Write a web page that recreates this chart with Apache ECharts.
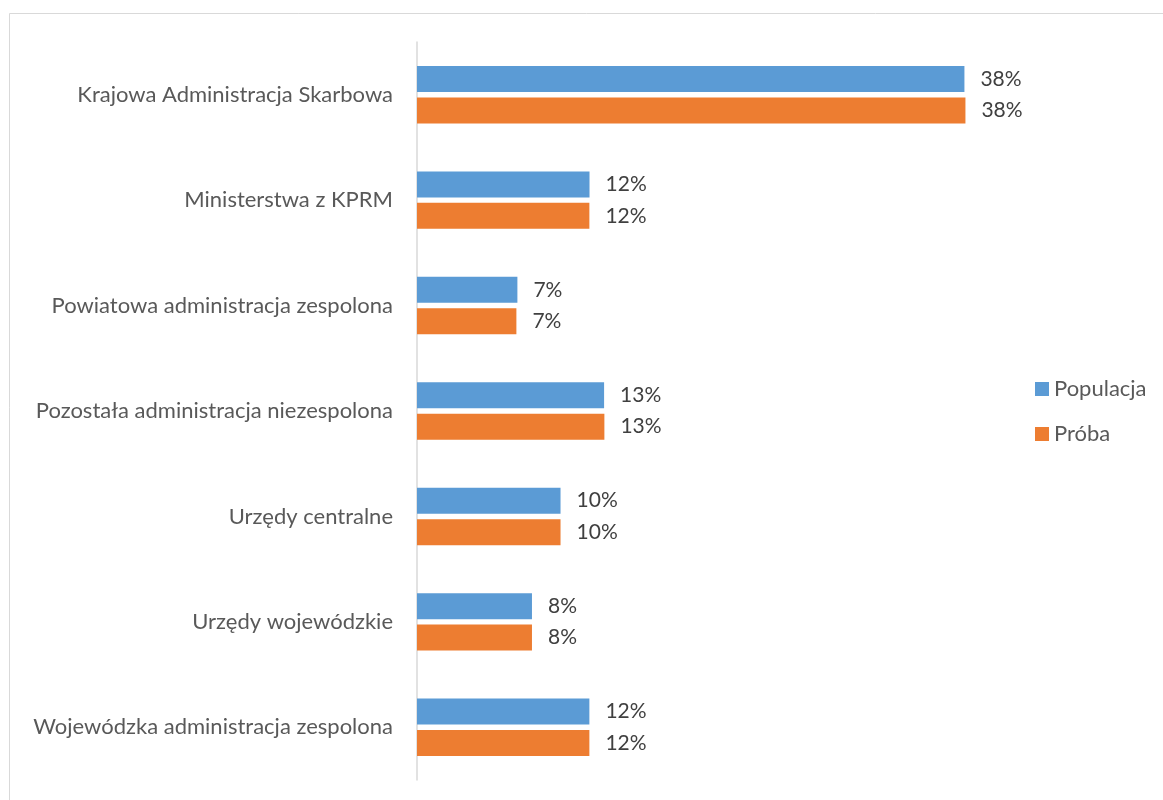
<!DOCTYPE html>
<html>
<head>
<meta charset="utf-8">
<script src="https://cdn.jsdelivr.net/npm/echarts@6/dist/echarts.min.js"></script>
<style>
html,body{margin:0;padding:0;background:#fff;}
#chart{width:1163px;height:800px;}
</style>
</head>
<body>
<div id="chart"></div>
<script>
const categories = [
  "Krajowa Administracja Skarbowa",
  "Ministerstwa z KPRM",
  "Powiatowa administracja zespolona",
  "Pozostała administracja niezespolona",
  "Urzędy centralne",
  "Urzędy wojewódzkie",
  "Wojewódzka administracja zespolona"
];
const populacja = [37.95, 11.96, 6.96, 12.97, 9.95, 7.97, 11.95];
const proba = [38.02, 11.95, 6.89, 12.99, 9.95, 7.97, 11.95];
const seriesNames = ["Populacja", "Próba"];

const FONT = "Lato";
const chart = echarts.init(document.getElementById('chart'), null, {renderer: 'canvas'});
const labelCfg = {
  show: true,
  position: 'right',
  distance: 16,
  color: '#404040',
  fontSize: 21,
  fontFamily: FONT,
  formatter: p => Math.round(p.value) + '%'
};
chart.setOption({
  animation: false,
  backgroundColor: '#fff',
  graphic: [{
    type: 'rect',
    shape: {x: 9.5, y: 13.5, width: 1200, height: 900},
    style: {fill: 'none', stroke: '#d9d9d9', lineWidth: 1},
    silent: true,
    z: -1
  }],
  grid: {left: 417, right: 169, top: 42, bottom: 20, containLabel: false},
  legend: {
    orient: 'vertical',
    left: 1035,
    top: 378,
    padding: 0,
    itemWidth: 14,
    itemHeight: 14,
    itemGap: 23,
    icon: 'rect',
    textStyle: {color: '#595959', fontSize: 22, lineHeight: 22, fontFamily: FONT},
    data: seriesNames
  },
  xAxis: {
    type: 'value',
    min: 0,
    max: 40,
    show: false
  },
  yAxis: {
    type: 'category',
    inverse: true,
    data: categories,
    axisLine: {show: true, lineStyle: {color: '#d9d9d9', width: 1.5}},
    axisTick: {show: false},
    axisLabel: {color: '#595959', fontSize: 22, fontFamily: FONT, margin: 24}
  },
  series: [
    {name: seriesNames[0], type: 'bar', data: populacja, barWidth: 26, barGap: '21%',
     itemStyle: {color: '#5b9bd5'}, label: labelCfg},
    {name: seriesNames[1], type: 'bar', data: proba, barWidth: 26,
     itemStyle: {color: '#ed7d31'}, label: labelCfg}
  ]
});
</script>
</body>
</html>
